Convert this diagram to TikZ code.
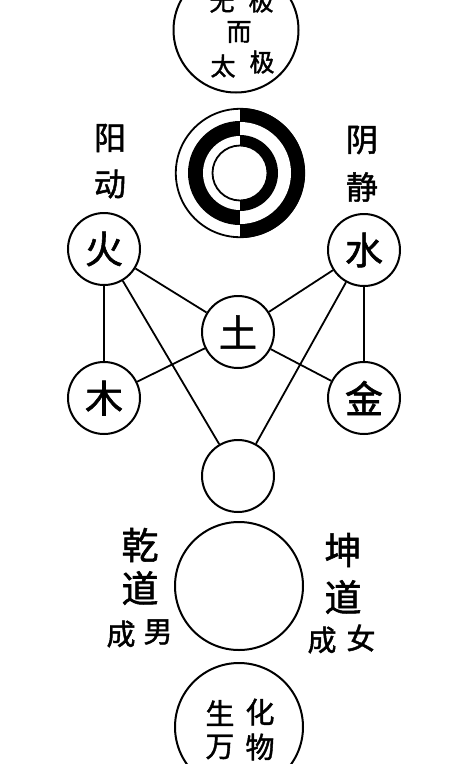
\documentclass[tikz,border=0pt]{standalone}
\usepackage{fontspec}
\newfontfamily\cjk[AutoFakeBold=1.5]{Noto Sans CJK SC}
\tikzset{
  ring/.style={draw=black, line width=2pt, circle, inner sep=0pt, minimum size=72pt},
  bigring/.style={draw=black, line width=2pt, circle, inner sep=0pt, minimum size=128pt},
  conn/.style={draw=black, line width=1.8pt},
  elem/.style={font=\cjk\bfseries\fontsize{38}{38}\selectfont, inner sep=0pt},
  lab/.style={font=\cjk\bfseries\fontsize{32}{32}\selectfont, inner sep=0pt},
  biglab/.style={font=\cjk\bfseries\fontsize{37}{37}\selectfont, inner sep=0pt},
  smalllab/.style={font=\cjk\bfseries\fontsize{29}{29}\selectfont, inner sep=0pt},
  intext/.style={font=\cjk\bfseries\fontsize{25}{25}\selectfont, inner sep=0pt},
  botext/.style={font=\cjk\bfseries\fontsize{29}{29}\selectfont, inner sep=0pt}
}
\begin{document}
\begin{tikzpicture}[x=1pt,y=-1pt]
\useasboundingbox (0,0) rectangle (450,764);
\fill[white] (0,0) rectangle (450,764);

% top circle: wuji er taiji
\node[bigring, minimum size=125pt] (wuji) at (236,30) {};
\node[intext] (t1) at (222,2) {无};
\node[intext] (t2) at (261,1) {极};
\node[intext] (t3) at (239,32) {而};
\node[intext] (t4) at (223,66) {太};
\node[intext] (t5) at (262,62) {极};

% taiji rings
\coordinate (T) at (240,173);
\begin{scope}
  \clip (160,100) rectangle (240,250);
  \fill[black] (T) circle[radius=52];
  \fill[white] (T) circle[radius=37];
\end{scope}
\begin{scope}
  \clip (240,100) rectangle (320,250);
  \fill[black] (T) circle[radius=65];
  \fill[white] (T) circle[radius=51];
  \fill[black] (T) circle[radius=38];
\end{scope}
\fill[white] (T) circle[radius=27.5];
\draw[line width=1.8pt] (T) circle[radius=64.2];
\draw[line width=1.8pt] (T) circle[radius=27.5];

% labels yang dong / yin jing
\node[lab] (yang) at (110,138) {阳};
\node[lab] (dong) at (110,184) {动};
\node[lab] (yin) at (362,140) {阴};
\node[lab] (jing) at (362,187) {静};

% five elements
\node[ring] (huo) at (104,249) {};
\node[ring] (shui) at (364,250) {};
\node[ring] (tu) at (238,332) {};
\node[ring] (mu) at (104,398) {};
\node[ring] (jin) at (364,398) {};
\node[ring] (hub) at (238,476) {};

\node[elem] at (huo) {火};
\node[elem] at (shui) {水};
\node[elem] at (tu) {土};
\node[elem] at (mu) {木};
\node[elem] at (jin) {金};

\draw[conn] (huo) -- (mu);
\draw[conn] (shui) -- (jin);
\draw[conn] (huo) -- (tu);
\draw[conn] (shui) -- (tu);
\draw[conn] (mu) -- (tu);
\draw[conn] (jin) -- (tu);
\draw[conn] (huo) -- (hub);
\draw[conn] (shui) -- (hub);

% qian dao / kun dao
\node[bigring] (qk) at (239,586) {};
\node[biglab] (qian) at (140,545) {乾};
\node[biglab] (dao1) at (140,588) {道};
\node[smalllab] (cheng1) at (121,634) {成};
\node[smalllab] (nan) at (158,632) {男};
\node[biglab] (kun) at (343,550) {坤};
\node[biglab] (dao2) at (343,597) {道};
\node[smalllab] (cheng2) at (322,640) {成};
\node[smalllab] (nv) at (361,638) {女};

% bottom circle
\node[bigring] (wanwu) at (239,727) {};
\node[botext] (b1) at (220,713) {生};
\node[botext] (b2) at (260,712) {化};
\node[botext] (b3) at (220,747) {万};
\node[botext] (b4) at (260,747) {物};
\end{tikzpicture}
\end{document}
